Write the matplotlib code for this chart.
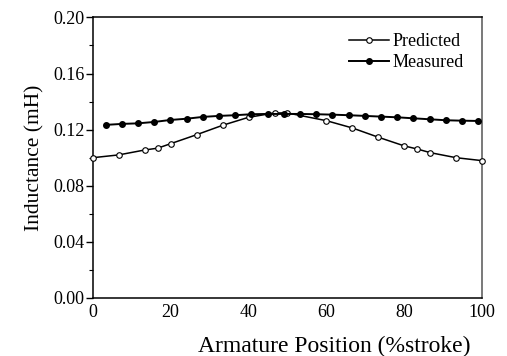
import numpy as np
import matplotlib.pyplot as plt
from matplotlib.ticker import MultipleLocator

# Predicted inductance (open circles)
pred_x = [0, 6.67, 13.33, 16.67, 20, 26.67, 33.33, 40, 46.67, 50,
          60, 66.67, 73.33, 80, 83.33, 86.67, 93.33, 100]
pred_y = [0.1000, 0.1020, 0.1055, 0.1068, 0.1100, 0.1164, 0.1231, 0.1288, 0.1319, 0.1319,
          0.1264, 0.1212, 0.1146, 0.1084, 0.1062, 0.1036, 0.1000, 0.0979]

# Measured inductance (filled circles)
meas_x = [3.3, 7.5, 11.6, 15.8, 19.9, 24.1, 28.3, 32.4, 36.6, 40.7, 44.9, 49.1,
          53.2, 57.4, 61.5, 65.7, 69.9, 74.0, 78.2, 82.3, 86.5, 90.7, 94.8, 99.0]
meas_y = [0.1234, 0.1241, 0.1245, 0.1255, 0.1269, 0.1278, 0.1291, 0.1298, 0.1303, 0.1310, 0.1312, 0.1312,
          0.1312, 0.1310, 0.1307, 0.1303, 0.1298, 0.1293, 0.1288, 0.1281, 0.1274, 0.1267, 0.1264, 0.1262]

plt.rcParams['font.family'] = ['Liberation Serif', 'DejaVu Serif']

fig = plt.figure(figsize=(5.07, 3.56), dpi=100)
ax = fig.add_axes([0.183, 0.163, 0.768, 0.788])

ax.plot(pred_x, pred_y, color='black', lw=1.1, marker='o', ms=4,
        mfc='white', mec='black', mew=0.8, label='Predicted', clip_on=False, zorder=3)
ax.plot(meas_x, meas_y, color='black', lw=1.4, marker='o', ms=4,
        mfc='black', mec='black', label='Measured', clip_on=False, zorder=4)

ax.set_xlim(0, 100)
ax.set_ylim(0, 0.20)
ax.set_xticks([0, 20, 40, 60, 80, 100])
ax.set_yticks([0.00, 0.04, 0.08, 0.12, 0.16, 0.20])
ax.yaxis.set_minor_locator(MultipleLocator(0.02))
ax.yaxis.set_major_formatter(plt.FuncFormatter(lambda v, p: f"{v:.2f}"))

ax.tick_params(axis='y', which='major', direction='out', length=5, width=1, labelsize=13, pad=1)
ax.tick_params(axis='y', which='minor', direction='out', length=3, width=0.8)
ax.tick_params(axis='x', which='both', length=0, labelsize=13, pad=4)

for s in ax.spines.values():
    s.set_linewidth(1.1)
ax.spines['right'].set_color('#555555')

# label sits right of centre in the original
ax.set_xlabel('Armature Position (%stroke)', fontsize=17, labelpad=11, x=0.62)
ax.set_ylabel('Inductance (mH)', fontsize=15.5, labelpad=6)

ax.legend(loc='upper right', frameon=False, fontsize=13, handlelength=2.2,
          handletextpad=0.2, borderaxespad=0.3, labelspacing=0.25,
          bbox_to_anchor=(0.985, 0.99))

fig.savefig('out.png', dpi=100)
